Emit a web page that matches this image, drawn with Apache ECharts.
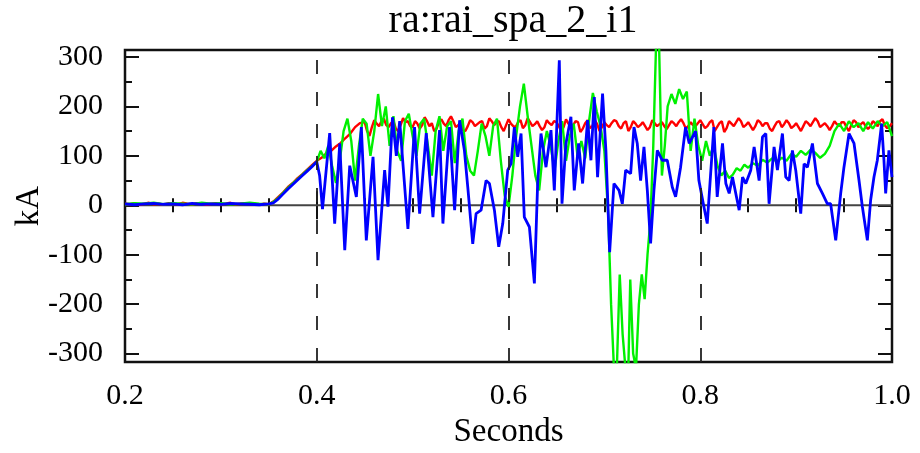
<!DOCTYPE html>
<html>
<head>
<meta charset="utf-8">
<title>ra:rai_spa_2_i1</title>
<script src="https://cdn.jsdelivr.net/npm/echarts@6.0.0/dist/echarts.min.js"></script>
<style>
  html, body { margin: 0; padding: 0; background: #fff; }
  #chart { width: 920px; height: 453px; }
</style>
</head>
<body>
<div id="chart"></div>
<script>
// Current traces (kA) against time (s)
const redTime = [
  0.200,0.205,0.210,0.215,0.220,0.225,0.230,0.235,0.240,0.245,0.250,0.255,0.260,0.265,0.270,0.275,
  0.280,0.285,0.290,0.295,0.300,0.305,0.310,0.315,0.320,0.325,0.330,0.335,0.340,0.345,0.350,
  0.355,0.360,0.365,0.370,0.375,0.380,0.385,0.390,0.395,0.400,0.405,0.410,0.415,0.420,0.425,0.430,
  0.435,0.440,0.445,
  0.4500,0.4525,0.4550,0.4575,0.4600,0.4625,0.4650,0.4675,0.4700,0.4725,0.4750,0.4775,0.4800,0.4825,0.4850,0.4875,0.4900,0.4925,0.4950,0.4975,
  0.5000,0.5025,0.5050,0.5075,0.5100,0.5125,0.5150,0.5175,0.5200,0.5225,0.5250,0.5275,0.5300,0.5325,0.5350,0.5375,0.5400,0.5425,0.5450,0.5475,
  0.5500,0.5525,0.5550,0.5575,0.5600,0.5625,0.5650,0.5675,0.5700,0.5725,0.5750,0.5775,0.5800,0.5825,0.5850,0.5875,0.5900,0.5925,0.5950,0.5975,
  0.6000,0.6025,0.6050,0.6075,0.6100,0.6125,0.6150,0.6175,0.6200,0.6225,0.6250,0.6275,0.6300,0.6325,0.6350,0.6375,0.6400,0.6425,0.6450,0.6475,
  0.6500,0.6525,0.6550,0.6575,0.6600,0.6625,0.6650,0.6675,0.6700,0.6725,0.6750,0.6775,0.6800,0.6825,0.6850,0.6875,0.6900,0.6925,0.6950,0.6975,
  0.7000,0.7025,0.7050,0.7075,0.7100,0.7125,0.7150,0.7175,0.7200,0.7225,0.7250,0.7275,0.7300,0.7325,0.7350,0.7375,0.7400,0.7425,0.7450,0.7475,
  0.7500,0.7525,0.7550,0.7575,0.7600,0.7625,0.7650,0.7675,0.7700,0.7725,0.7750,0.7775,0.7800,0.7825,0.7850,0.7875,0.7900,0.7925,0.7950,0.7975,
  0.8000,0.8025,0.8050,0.8075,0.8100,0.8125,0.8150,0.8175,0.8200,0.8225,0.8250,0.8275,0.8300,0.8325,0.8350,0.8375,0.8400,0.8425,0.8450,0.8475,
  0.8500,0.8525,0.8550,0.8575,0.8600,0.8625,0.8650,0.8675,0.8700,0.8725,0.8750,0.8775,0.8800,0.8825,0.8850,0.8875,0.8900,0.8925,0.8950,0.8975,
  0.9000,0.9025,0.9050,0.9075,0.9100,0.9125,0.9150,0.9175,0.9200,0.9225,0.9250,0.9275,0.9300,0.9325,0.9350,0.9375,0.9400,0.9425,0.9450,0.9475,
  0.9500,0.9525,0.9550,0.9575,0.9600,0.9625,0.9650,0.9675,0.9700,0.9725,0.9750,0.9775,0.9800,0.9825,0.9850,0.9875,0.9900,0.9925,0.9950,0.9975,
  1.0000
];
const redKA = [
  3,2,4,1,3,5,2,3,1,4,3,2,5,3,2,4,
  3,1,3,4,2,3,5,2,3,4,2,3,1,3,2,
  8,17,26,37,45,55,63,72,81,90,96,105,110,119,126,136,
  145,158,166,
  168,150,140,158,172,165,160,170,175,162,158,166,170,155,150,162,176,168,170,160,
  158,170,165,155,162,178,170,160,166,150,155,168,174,165,160,172,180,170,158,162,
  166,152,150,160,172,168,160,164,168,170,155,160,176,170,162,168,170,158,150,162,
  174,165,160,158,168,172,156,162,176,168,160,164,170,160,152,158,172,166,162,170,
  168,160,150,158,174,165,158,162,170,168,148,155,166,172,156,160,172,164,150,158,
  168,162,158,166,172,170,160,155,166,170,150,158,170,165,158,162,168,160,152,158,
  172,166,160,164,168,160,154,162,170,166,160,168,174,166,155,160,168,162,160,166,
  172,164,156,160,168,172,150,158,166,170,148,156,170,165,160,168,176,170,158,162,
  168,160,152,160,172,168,160,166,166,155,150,160,168,170,158,164,172,166,156,160,
  166,158,150,160,170,166,160,168,176,170,158,162,166,160,152,160,170,164,160,168,
  168,158,150,162,172,168,158,164,168,160,154,160,170,166,160,170,174,162,156,160,
  166
];

const greenTime = [
  0.20,0.21,0.22,0.23,0.24,0.25,0.26,0.27,0.28,0.29,0.30,0.31,0.32,0.33,0.34,0.35,
  0.355,0.360,0.365,0.370,0.375,0.380,0.385,0.390,0.395,0.400,
  0.404,0.408,0.412,0.416,0.420,0.424,0.428,0.432,0.436,0.440,0.444,0.448,0.452,0.456,0.460,0.464,
  0.468,0.472,0.476,0.480,0.484,0.488,0.492,0.496,0.500,0.504,0.508,0.512,0.516,0.520,0.524,0.528,
  0.532,0.536,0.540,0.544,0.548,0.552,0.556,0.560,0.564,0.568,0.572,0.576,0.580,0.584,0.588,0.592,
  0.596,0.600,0.604,0.608,0.612,0.616,0.620,0.624,0.628,0.632,0.636,0.640,0.644,0.648,0.652,0.656,
  0.660,0.664,0.668,0.672,0.676,0.680,0.684,0.688,0.692,0.696,0.700,0.704,0.707,0.710,0.713,0.716,
  0.719,0.722,0.725,0.727,0.730,0.733,0.736,0.739,0.742,0.745,0.748,0.751,0.754,0.757,0.760,0.763,
  0.766,0.770,0.774,0.778,0.782,0.786,0.790,0.794,0.798,0.802,0.806,0.810,0.814,0.818,0.822,0.826,
  0.830,0.834,0.838,0.842,0.846,0.850,0.855,0.860,0.865,0.870,0.875,0.880,0.885,0.890,0.895,0.900,
  0.905,0.910,0.915,0.920,0.925,0.930,0.935,0.940,0.945,0.950,0.955,0.960,0.965,0.970,0.975,0.980,
  0.985,0.990,0.995,1.000
];
const greenKA = [
  2,4,3,5,2,4,3,2,5,3,4,2,3,5,3,2,
  7,15,25,35,44,53,62,71,79,88,
  110,95,120,80,45,90,150,175,130,50,120,175,165,100,150,225,
  160,200,120,180,110,90,170,185,140,100,165,175,120,60,150,180,
  110,160,170,85,150,175,100,70,60,110,165,140,100,160,175,90,
  20,-3,60,140,200,246,180,120,60,30,110,150,120,70,130,170,
  90,140,165,100,130,95,170,227,190,160,110,-20,-200,-330,-330,-140,
  -260,-330,-330,-150,-300,-330,-200,-140,-190,-100,-30,120,330,330,60,120,
  200,225,205,235,215,230,110,175,120,90,130,100,120,80,60,70,
  55,62,75,70,82,76,85,80,92,86,95,88,96,90,104,98,
  110,102,112,106,96,104,120,150,165,150,170,158,166,150,168,155,
  170,160,168,140
];

const blueTime = [
  0.20,0.21,0.22,0.23,0.24,0.25,0.26,0.27,0.28,0.29,0.30,0.31,0.32,0.33,0.34,0.35,
  0.355,0.360,0.365,0.370,0.375,0.380,0.385,0.390,0.395,0.400,
  0.403,0.406,0.4135,0.4187,0.424,0.4292,0.4344,0.4413,0.4465,0.4517,0.4587,0.4639,0.4708,0.4743,
  0.479,0.483,0.4865,0.4951,0.502,0.5073,0.5142,0.5212,0.5281,0.5316,0.5385,0.5438,0.549,0.554,
  0.5575,0.5627,0.5662,0.5714,0.5766,0.5801,0.5853,0.5898,0.594,0.5992,0.6027,0.6061,0.6096,0.6131,
  0.6165,0.6218,0.627,0.6304,0.6339,0.6391,0.6443,0.6478,0.653,0.6558,0.6599,0.6651,0.6686,0.6731,
  0.6773,0.6825,0.686,0.6895,0.6929,0.6981,0.7016,0.7055,0.71,0.7153,0.7187,0.7222,0.7274,0.7309,
  0.7343,0.7378,0.7413,0.7448,0.7482,0.7517,0.7552,0.7604,0.7656,0.7708,0.7743,0.7795,0.7847,0.7885,
  0.7951,0.7986,0.8038,0.8073,0.8107,0.8142,0.8177,0.8232,0.8267,0.8302,0.8336,0.8406,0.8441,0.8475,
  0.8527,0.8562,0.8614,0.8649,0.8684,0.8718,0.877,0.8805,0.8857,0.8892,0.8927,0.8961,0.8996,0.9048,
  0.9083,0.9118,0.917,0.9222,0.9274,0.9326,0.936,0.9413,0.9465,0.9499,0.9552,0.9604,0.9656,0.9691,
  0.9743,0.9777,0.9812,0.9847,0.9892,0.9916,0.9934,0.9968,1.0
];
const blueKA = [
  3,1,3,4,2,3,1,4,2,3,2,4,3,2,1,3,
  5,13,23,33,42,51,60,69,78,88,
  60,-8,146,-37,125,-91,80,17,158,-71,98,-111,71,-3,
  178,100,170,-48,158,-17,146,-24,152,-37,158,-10,172,111,
  37,-78,-17,-10,50,44,-10,-84,-37,71,84,158,98,145,
  -24,-44,-158,44,145,77,152,30,293,3,125,179,30,125,
  44,172,91,219,57,226,111,-95,44,30,3,71,64,158,
  125,50,118,30,-77,30,111,91,91,37,17,77,158,125,
  150,50,-3,-37,60,158,17,125,44,24,57,-10,57,44,
  71,118,50,138,145,3,118,71,145,57,50,111,71,-17,
  84,77,125,44,24,3,3,-71,24,77,145,125,50,-3,
  -71,10,57,91,165,91,24,111,57
];

// Axis ticks
const yMajorTicks = [-300, -200, -100, 0, 100, 200, 300];
const yMinorTicks = [-250, -150, -50, 50, 150, 250];
const guideTimes = [0.4, 0.6, 0.8];

const FONT = 'Liberation Serif';
const pairs = (ts, vs) => ts.map((t, i) => [t, vs[i]]);

const chart = echarts.init(document.getElementById('chart'), null, { renderer: 'canvas' });

const Y_MIN = -317, Y_MAX = 314;
const yBase = {
  type: 'value', min: Y_MIN, max: Y_MAX,
  axisLine: { show: false },
  splitLine: { show: false }
};
function yAxisDef(position, values, length, withLabels) {
  return Object.assign({}, yBase, {
    position,
    axisTick: { show: true, inside: true, length, customValues: values,
                lineStyle: { color: '#111', width: 2 } },
    axisLabel: withLabels
      ? { show: true, customValues: values, fontFamily: FONT, fontSize: 30, color: '#000', margin: 22 }
      : { show: false }
  });
}

const xBase = {
  type: 'value', min: 0.2, max: 1.0, interval: 0.2,
  axisLine: { show: false },
  splitLine: { show: false },
  axisTick: { show: true, inside: true, length: 14, lineStyle: { color: '#111', width: 2 } },
  minorTick: { show: true, splitNumber: 4, length: 7, lineStyle: { color: '#111', width: 2 } }
};

const option = {
  animation: false,
  backgroundColor: '#fff',
  title: {
    text: 'ra:rai_spa_2_i1',
    left: 508, top: -4, textAlign: 'center',
    textStyle: { fontFamily: FONT, fontSize: 40, fontWeight: 'normal', color: '#000' }
  },
  grid: {
    left: 125, right: 28, top: 50, bottom: 91,
    outerBoundsMode: 'none', containLabel: false,
    show: true, borderColor: '#111', borderWidth: 2.5, backgroundColor: 'transparent'
  },
  xAxis: [
    Object.assign({}, xBase, {
      position: 'bottom',
      axisLabel: { fontFamily: FONT, fontSize: 30, color: '#000', margin: 19,
                   formatter: v => v.toFixed(1) },
      name: 'Seconds', nameLocation: 'middle', nameGap: 54,
      nameTextStyle: { fontFamily: FONT, fontSize: 33, color: '#000' }
    }),
    Object.assign({}, xBase, { position: 'top', axisLabel: { show: false } })
  ],
  yAxis: [
    Object.assign(yAxisDef('left', yMajorTicks, 14, true), {
      name: 'kA', nameLocation: 'middle', nameGap: 79, nameRotate: 90,
      nameMoveOverlap: false,
      nameTextStyle: { fontFamily: FONT, fontSize: 33, color: '#000' }
    }),
    yAxisDef('left', yMinorTicks, 7, false),
    yAxisDef('right', yMajorTicks, 14, false),
    yAxisDef('right', yMinorTicks, 7, false)
  ],
  series: [
    {
      name: 'zero', type: 'line', data: pairs([0.2, 1.0], [0, 0]),
      showSymbol: false, silent: true, z: 1,
      lineStyle: { color: '#444', width: 2 }
    },
    {
      name: 'red', type: 'line', data: pairs(redTime, redKA),
      showSymbol: false, z: 2, lineStyle: { color: '#ff0000', width: 2.4 }
    },
    {
      name: 'green', type: 'line', data: pairs(greenTime, greenKA),
      showSymbol: false, z: 3, lineStyle: { color: '#00f000', width: 2.4 }
    },
    {
      name: 'blue', type: 'line', data: pairs(blueTime, blueKA),
      showSymbol: false, z: 4, lineStyle: { color: '#0000ff', width: 2.8 }
    },
    {
      name: 'guides', type: 'line', data: [], z: 5, silent: true,
      markLine: {
        silent: true, symbol: 'none', label: { show: false },
        lineStyle: { color: '#222', width: 1.8, type: [14, 18] },
        data: guideTimes.map(t => ({ xAxis: t }))
      }
    }
  ]
};

chart.setOption(option);
</script>
</body>
</html>
